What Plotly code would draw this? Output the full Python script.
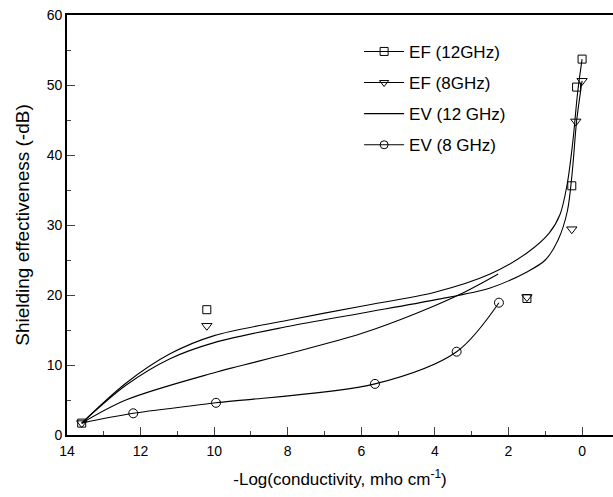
import plotly.graph_objects as go

# Measured EF data points (-log conductivity, shielding effectiveness)
ef12_x = [13.6, 10.2, 1.5, 0.28, 0.15, 0.0]
ef12_y = [1.7, 17.9, 19.5, 35.6, 49.7, 53.7]
ef8_x = [13.6, 10.2, 1.5, 0.28, 0.17, 0.0]
ef8_y = [1.7, 15.6, 19.7, 29.4, 44.8, 50.6]

# Fitted curves for EF data
ef12_fit_x = [13.6, 12.4, 11.2, 10.0, 8.0, 6.0, 4.0, 2.5, 1.5, 0.9, 0.6, 0.4, 0.25, 0.12, 0.0]
ef12_fit_y = [1.7, 7.4, 11.6, 14.2, 16.4, 18.4, 20.4, 23.0, 26.0, 28.8, 31.5, 36.0, 42.0, 49.0, 53.7]
ef8_fit_x = [13.6, 12.4, 11.2, 10.0, 8.0, 6.0, 4.0, 2.5, 1.5, 1.0, 0.65, 0.4, 0.26, 0.15, 0.0]
ef8_fit_y = [1.7, 7.1, 10.9, 13.2, 15.5, 17.4, 19.3, 21.0, 23.3, 25.0, 27.9, 32.0, 38.0, 44.8, 50.6]

# EV curves
ev12_x = [13.6, 12.4, 10.0, 8.0, 6.0, 4.5, 3.2, 2.28]
ev12_y = [1.7, 5.0, 8.9, 11.6, 14.5, 17.4, 20.4, 23.0]
ev8_x = [13.6, 12.2, 9.95, 5.63, 3.41, 2.26]
ev8_y = [1.7, 3.1, 4.6, 7.3, 11.9, 18.9]

names = ["EF (12GHz)", "EF (8GHz)", "EV (12 GHz)", "EV (8 GHz)"]

FONT = "Liberation Sans, Arial, sans-serif"
BLACK = "black"
LW = 1.1
SPLINE = dict(color=BLACK, width=LW, shape="spline", smoothing=0.9)

fig = go.Figure()


def legend_proxy(name, symbol, group):
    mode = "lines+markers" if symbol else "lines"
    fig.add_trace(go.Scatter(
        x=[None], y=[None], mode=mode, name=name, legendgroup=group,
        line=dict(color=BLACK, width=LW),
        marker=dict(symbol=symbol or "circle", size=8, color=BLACK,
                    line=dict(color=BLACK, width=1)),
    ))


# EF (12 GHz)
fig.add_trace(go.Scatter(x=ef12_fit_x, y=ef12_fit_y, mode="lines", showlegend=False,
                         legendgroup="a", line=SPLINE))
fig.add_trace(go.Scatter(x=ef12_x, y=ef12_y, mode="markers", showlegend=False, legendgroup="a",
                         marker=dict(symbol="square-open", size=8, color=BLACK, line=dict(width=1))))
legend_proxy(names[0], "square-open", "a")

# EF (8 GHz)
fig.add_trace(go.Scatter(x=ef8_fit_x, y=ef8_fit_y, mode="lines", showlegend=False,
                         legendgroup="b", line=SPLINE))
fig.add_trace(go.Scatter(x=ef8_x, y=ef8_y, mode="markers", showlegend=False, legendgroup="b",
                         marker=dict(symbol="triangle-down-open", size=9, color=BLACK, line=dict(width=1))))
legend_proxy(names[1], "triangle-down-open", "b")

# EV (12 GHz)
fig.add_trace(go.Scatter(x=ev12_x, y=ev12_y, mode="lines", showlegend=False, legendgroup="c",
                         line=SPLINE))
legend_proxy(names[2], None, "c")

# EV (8 GHz)
fig.add_trace(go.Scatter(x=ev8_x, y=ev8_y, mode="lines", showlegend=False, legendgroup="d",
                         line=SPLINE))
fig.add_trace(go.Scatter(x=ev8_x[1:], y=ev8_y[1:], mode="markers", showlegend=False, legendgroup="d",
                         marker=dict(symbol="circle-open", size=9, color=BLACK, line=dict(width=1))))
legend_proxy(names[3], "circle-open", "d")

fig.update_layout(
    width=613, height=497,
    margin=dict(l=67, r=0, t=15, b=62),
    plot_bgcolor="white", paper_bgcolor="white",
    font=dict(family=FONT, size=14, color=BLACK),
    showlegend=True,
    legend=dict(x=0.535, y=0.955, xanchor="left", yanchor="top",
                font=dict(family=FONT, size=17, color=BLACK),
                bgcolor="rgba(0,0,0,0)", traceorder="grouped", tracegroupgap=6,
                itemwidth=40),
)

fig.update_xaxes(
    range=[14, -0.84], tick0=0, dtick=2, ticks="inside", ticklen=8, tickwidth=1.3,
    showline=True, linewidth=1.6, linecolor=BLACK, mirror=True, showgrid=False, zeroline=False,
    tickfont=dict(size=14), ticklabelstandoff=2,
    minor=dict(dtick=1, ticks="inside", ticklen=4, tickwidth=1.2, showgrid=False),
    title=dict(text="-Log(conductivity, mho cm<sup>-1</sup>)", font=dict(size=17), standoff=16),
)
fig.update_yaxes(
    range=[0, 60], dtick=10, ticks="inside", ticklen=8, tickwidth=1.3,
    showline=True, linewidth=1.6, linecolor=BLACK, showgrid=False, zeroline=False,
    tickfont=dict(size=14),
    minor=dict(dtick=5, ticks="inside", ticklen=4, tickwidth=1.2, showgrid=False),
    title=dict(text="Shielding effectiveness (-dB)", font=dict(size=19), standoff=12),
)

fig.write_html("out.html")
